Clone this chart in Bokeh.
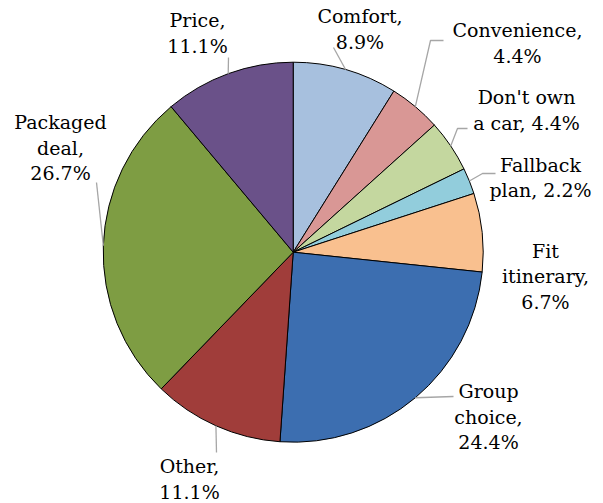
import math
from bokeh.plotting import figure
from bokeh.models import Range1d, ColumnDataSource
from bokeh.core.properties import value
from bokeh.embed import file_html
from bokeh.resources import INLINE

# ---- data ----
categories = ["Comfort", "Convenience", "Don't own a car", "Fallback plan", "Fit itinerary",
              "Group choice", "Other", "Packaged deal", "Price"]
counts = [4, 2, 2, 1, 3, 11, 5, 12, 5]
label_lines = [["Comfort,", "{p}"], ["Convenience,", "{p}"], ["Don't own", "a car, {p}"],
               ["Fallback", "plan, {p}"], ["Fit", "itinerary,", "{p}"], ["Group", "choice,", "{p}"],
               ["Other,", "{p}"], ["Packaged", "deal,", "{p}"], ["Price,", "{p}"]]
colors = ["#A7C0DE", "#D99795", "#C4D79F", "#92CDDC", "#F9C08F",
          "#3C6EB0", "#A03D3A", "#7E9D43", "#6A5189"]

# ---- layout (pixels, centre of pie at 0,0) ----
R = 190
TEXT_SHIFT = 7.5
label_anchor = [(66.8, 228.4), (224.3, 214.4), (233.3, 147.7), (247.3, 80.0), (252.3, -6.0),
                (195.3, -146.6), (-103.7, -221.6), (-232.7, 122.4), (-95.7, 224.4)]
leader_pts = [[(40.3, 204.7)], [(137.3, 211.7), (150.3, 211.7)], [(164.3, 123.7), (174.3, 123.7)],
              [(189.3, 78.7), (202.3, 78.7)], [], [(160.3, -144.3)], [(-76.7, -200.3)],
              [(-196.7, 69.7)], [(-64.7, 194.7)]]
LINE_H = 25.5
FONT = "DejaVu Serif"
FSIZE = "19px"

total = sum(counts)
fracs = [c / total for c in counts]
starts, ends, mids = [], [], []
cum = 0.0
for f in fracs:
    a0 = math.pi / 2 - 2 * math.pi * cum
    a1 = math.pi / 2 - 2 * math.pi * (cum + f)
    starts.append(a1)
    ends.append(a0)
    mids.append((a0 + a1) / 2)
    cum += f

W, H = 603, 503
cx_page, cy_page = 292.7, 251.7
p = figure(width=W, height=H, output_backend="svg", toolbar_location=None,
           x_range=Range1d(-cx_page, W - cx_page), y_range=Range1d(-(H - cy_page), cy_page),
           min_border=0, x_axis_location=None, y_axis_location=None)
p.grid.visible = False
p.outline_line_color = None
p.background_fill_color = "white"
p.border_fill_color = "white"

src = ColumnDataSource(dict(start=starts, end=ends, color=colors))
p.wedge(x=0, y=0, radius=R, start_angle="start", end_angle="end", fill_color="color",
        line_color="black", line_width=1, source=src)

# leader lines
for i, pts in enumerate(leader_pts):
    if not pts:
        continue
    ex = R * math.cos(mids[i])
    ey = R * math.sin(mids[i])
    xs = [ex] + [q[0] for q in pts]
    ys = [ey] + [q[1] for q in pts]
    p.line(xs, ys, line_color="#A6A6A6", line_width=1.3)

# labels
tx, ty, tt = [], [], []
for i, lines in enumerate(label_lines):
    pct = "%.1f%%" % (100 * fracs[i])
    ax, ay = label_anchor[i]
    for j, ln in enumerate(lines):
        tx.append(ax)
        ty.append(ay + TEXT_SHIFT - j * LINE_H)
        tt.append(ln.format(p=pct))
p.text(x=tx, y=ty, text=tt, text_align="center", text_baseline="alphabetic",
       text_font=value(FONT), text_font_size=FSIZE, text_color="#000000")

open("out.html", "w").write(file_html(p, INLINE))
